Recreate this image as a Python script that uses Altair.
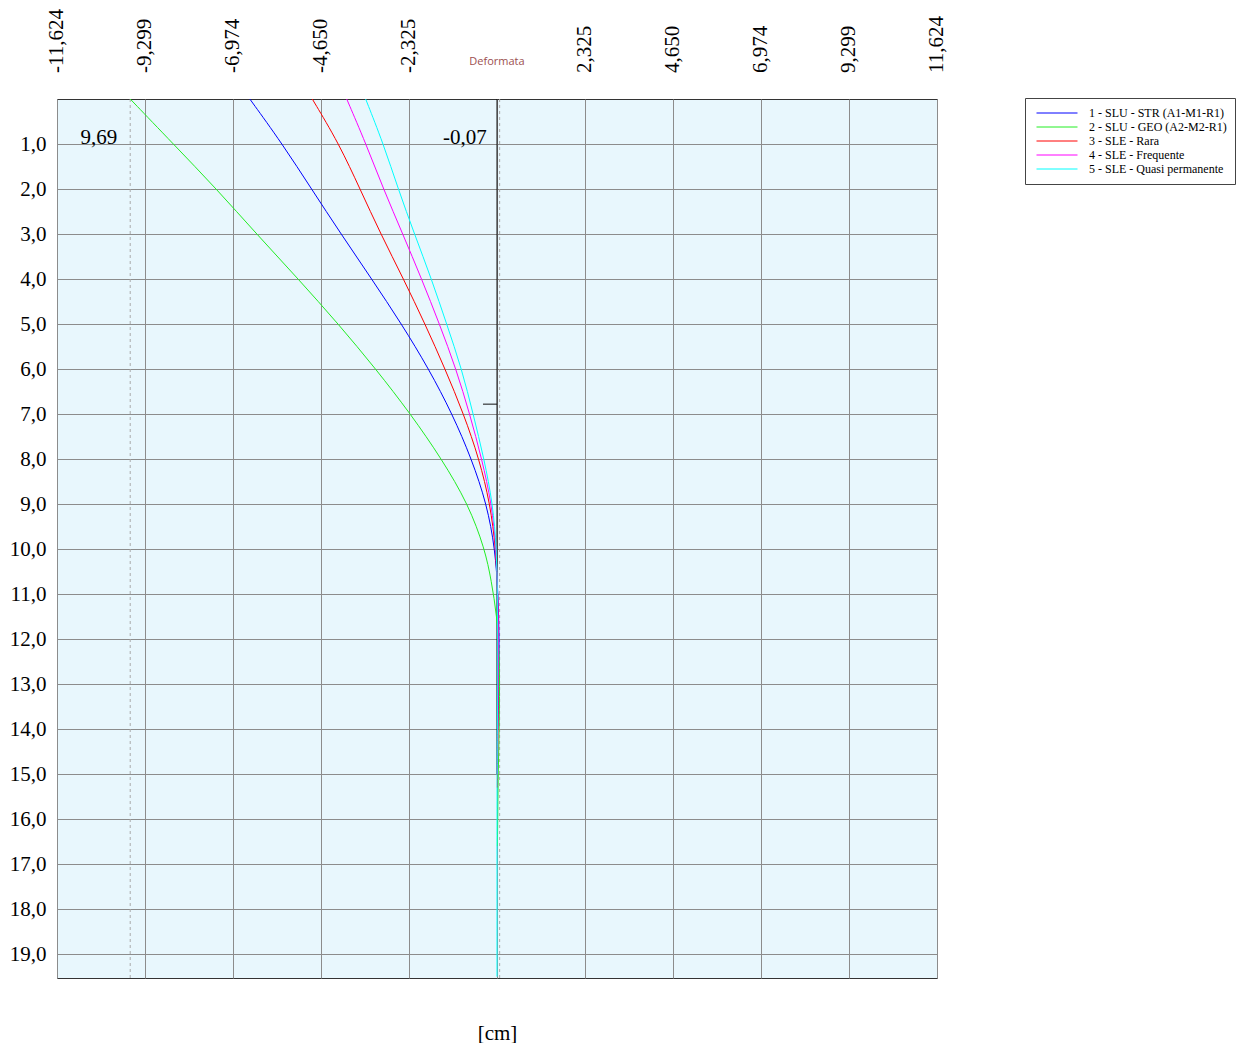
import altair as alt
import pandas as pd

# ---------------- data ----------------
series_names = [
    "1 - SLU - STR (A1-M1-R1)",
    "2 - SLU - GEO (A2-M2-R1)",
    "3 - SLE - Rara",
    "4 - SLE - Frequente",
    "5 - SLE - Quasi permanente",
]
series_colors = ["#0000FF", "#22EE22", "#FF0000", "#FF00FF", "#00FFFF"]

str_depth = [0, 1, 2, 3, 4, 5, 6, 7, 8, 9, 10, 11, 12, 13, 14]
str_disp = [-6.53, -5.67, -4.90, -4.12, -3.31, -2.52, -1.80, -1.18, -0.67, -0.27, -0.05, 0.03, 0.06, 0.05, 0.02]

geo_depth = [0, 1, 2, 3, 4, 5, 6, 7, 8, 9, 10, 10.7, 11.5, 12.3, 13, 14, 15, 16, 16.6]
geo_disp = [-9.69, -8.55, -7.41, -6.35, -5.25, -4.19, -3.20, -2.28, -1.46, -0.76, -0.32, -0.15, 0.0, 0.06, 0.07, 0.06, 0.03, 0.02, 0.01]

rara_depth = [0, 1, 2, 3, 4, 5, 6, 7, 8, 9, 10, 11, 12, 13, 14, 15.3]
rara_disp = [-4.88, -4.17, -3.62, -3.07, -2.47, -1.90, -1.37, -0.88, -0.47, -0.18, -0.03, 0.02, 0.04, 0.04, 0.02, 0.01]

freq_depth = [0, 1, 2, 3, 4, 5, 6, 7, 8, 9, 10, 11, 12, 13, 14, 15]
freq_disp = [-3.97, -3.46, -3.00, -2.49, -1.99, -1.52, -1.08, -0.72, -0.40, -0.14, -0.02, 0.02, 0.04, 0.03, 0.02, 0.01]

qp_depth = [0, 1, 2, 3, 4, 5, 6, 7, 8, 9, 10, 11, 12, 13, 14, 15, 19.5]
qp_disp = [-3.47, -3.00, -2.61, -2.18, -1.73, -1.33, -0.93, -0.63, -0.34, -0.11, -0.01, 0.01, 0.02, 0.02, 0.01, 0.0, 0.0]

x_tick_values = [-11.624, -9.299, -6.974, -4.650, -2.325, 0.0, 2.325, 4.650, 6.974, 9.299, 11.624]
x_tick_labels = ["-11,624", "-9,299", "-6,974", "-4,650", "-2,325", "", "2,325", "4,650", "6,974", "9,299", "11,624"]
y_tick_values = list(range(1, 20))
x_max = 11.624
depth_max = 19.53

max_disp = [-9.69, 0.07]
max_labels = ["9,69", "-0,07"]
max_label_depth = [1.0, 1.0]

pile_depth = [0.0, 15.0]
anchor_depth = 6.78
anchor_disp = [-0.37, 0.0]

# ---------------- tables ----------------
rows = []
for name, dd, vv in zip(
    series_names,
    [str_depth, geo_depth, rara_depth, freq_depth, qp_depth],
    [str_disp, geo_disp, rara_disp, freq_disp, qp_disp],
):
    for d, v in zip(dd, vv):
        rows.append({"series": name, "depth": d, "disp": v})
lines_df = pd.DataFrame(rows)

ticks_df = pd.DataFrame({"disp": x_tick_values, "label": x_tick_labels})
ticks_df = ticks_df[ticks_df["label"] != ""]
max_df = pd.DataFrame({"disp": max_disp, "label": max_labels, "depth": max_label_depth})
pile_df = pd.DataFrame({"disp": [0.0], "depth": [pile_depth[0]], "depth_end": [pile_depth[1]]})
anchor_df = pd.DataFrame({"disp": [anchor_disp[0]], "disp_end": [anchor_disp[1]], "depth": [anchor_depth]})
deform_df = pd.DataFrame({"disp": [0.0], "label": ["Deformata"]})

SERIF = "Liberation Serif"
xs = alt.Scale(domain=[-x_max, x_max], nice=False, zero=False)
ys = alt.Scale(domain=[0, depth_max], reverse=True, nice=False, zero=False)

x_axis = alt.Axis(
    orient="bottom", values=x_tick_values, labels=False, ticks=False, tickSize=0,
    domain=False, grid=True, gridColor="#8c8c8c", gridOpacity=1, gridWidth=1,
    title="[cm]", titleFont=SERIF, titleFontSize=21, titleFontWeight="normal",
    titleColor="black", titlePadding=44,
)
y_axis = alt.Axis(
    values=y_tick_values, ticks=False, tickSize=0, domain=False, grid=True,
    gridColor="#8c8c8c", gridOpacity=1, gridWidth=1,
    labelFont=SERIF, labelFontSize=21, labelColor="black", labelPadding=11,
    labelExpr="replace(format(datum.value, '.1f'), '.', ',')", title=None,
)
X = alt.X("disp:Q", scale=xs, axis=x_axis)
Y = alt.Y("depth:Q", scale=ys, axis=y_axis)

dashed = alt.Chart(max_df).mark_rule(color="#aaaaaa", strokeWidth=1, strokeDash=[3, 3]).encode(x=X)

pile = alt.Chart(pile_df).mark_rule(color="#111111", strokeWidth=1).encode(
    x=X, y=Y, y2="depth_end:Q"
)
anchor = alt.Chart(anchor_df).mark_rule(color="#111111", strokeWidth=1).encode(
    x=X, x2="disp_end:Q", y=Y
)

lines = alt.Chart(lines_df).mark_line(strokeWidth=1, interpolate="basis").encode(
    x=X,
    y=Y,
    color=alt.Color(
        "series:N",
        scale=alt.Scale(domain=series_names, range=series_colors),
        legend=alt.Legend(
            title=None, orient="none", legendX=968, legendY=-1,
            symbolType="stroke", symbolSize=1681, symbolStrokeWidth=1,
            symbolOffset=3, clipHeight=14, rowPadding=0,
            labelFont=SERIF, labelFontSize=12, labelColor="black", labelOffset=11,
            padding=8, strokeColor="#444444", fillColor="white", cornerRadius=0,
        ),
    ),
    order=alt.Order("depth:Q"),
)

max_text = alt.Chart(max_df).mark_text(
    align="right", baseline="alphabetic", dx=-13, font=SERIF, fontSize=21, color="black"
).encode(x=X, y=Y, text="label:N")

top_labels = alt.Chart(ticks_df).mark_text(
    angle=270, align="left", baseline="middle", font=SERIF, fontSize=21, color="black"
).encode(x=X, y=alt.value(-26), text="label:N")

deform = alt.Chart(deform_df).mark_text(
    font="Open Sans", fontSize=11, color="#9C4F4F", baseline="middle"
).encode(x=X, y=alt.value(-37), text="label:N")

chart = alt.layer(dashed, pile, anchor, lines, max_text, top_labels, deform).properties(
    width=880,
    height=879,
    padding={"left": 49, "top": 91, "right": 304, "bottom": 65},
    autosize=alt.AutoSizeParams(type="none"),
).configure_view(fill="#E8F7FD", stroke="#333333", strokeWidth=1)

chart.save("out.html", embed_options={"renderer": "svg", "actions": False})
